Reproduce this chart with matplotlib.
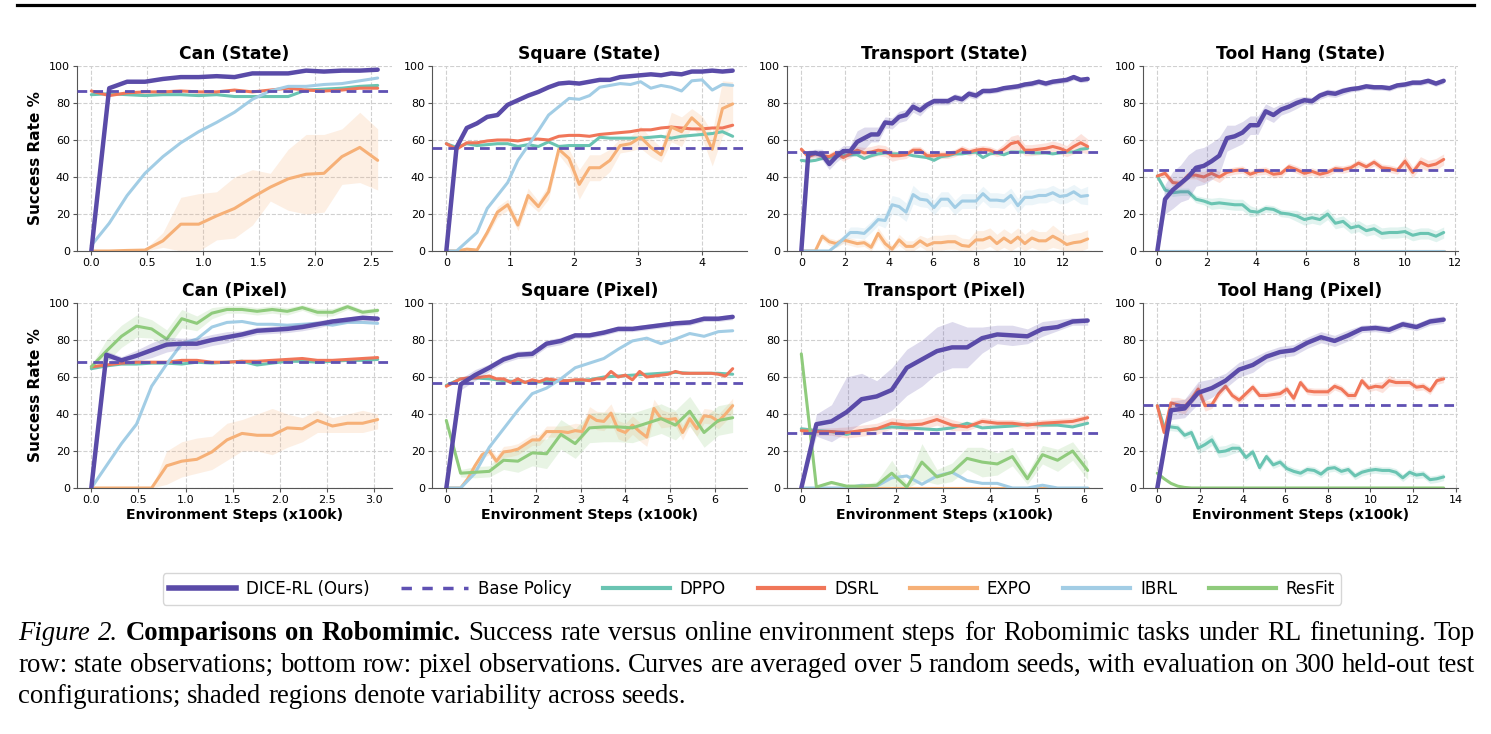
import numpy as np
import matplotlib
matplotlib.use("Agg")
import matplotlib.pyplot as plt
from matplotlib.lines import Line2D

# colours
C_DICE = "#5a4ba8"
C_BASE = "#5f51b3"
C_DPPO = "#6ac4b2"
C_DSRL = "#f07659"
C_EXPO = "#f6b077"
C_IBRL = "#a2cde5"
C_RESFIT = "#8fcb7c"

# ---------------- Can (State) ----------------
can_s_last = 2.56
can_s_base = 86.3
can_s_dice = [0, 88, 91.5, 91.5, 93, 94, 94, 94.5, 94, 96, 96, 96, 97.5, 97, 97.5, 97.5, 98]
can_s_dppo = [84.5, 85, 84.5, 84, 84.5, 84.5, 84, 84.5, 83.5, 83.5, 83.5, 83.5, 87, 87.5, 88, 89, 89.5]
can_s_dsrl = [86.5, 84, 85.5, 86, 86, 86.5, 86, 86, 87, 86, 87, 88, 87, 86.5, 87, 88, 88]
can_s_expo = [0, 0, 0.3, 0.5, 5.5, 14.5, 14.5, 19, 23, 29, 34.5, 39, 41.5, 42, 51, 56, 49]
can_s_expo_lo = [0, 0, 0, 0, 2, 0, 0, 6, 7, 14, 27, 22, 20, 21, 36, 37, 33]
can_s_expo_hi = [0, 0, 0.5, 1, 10, 29, 31, 32, 40, 44, 42, 55, 63, 63, 66, 75, 66]
can_s_ibrl = [3, 15, 30, 42, 51, 58.5, 64.5, 69.5, 75, 82, 86.5, 89, 89, 90, 90.5, 92, 93.5]

# ---------------- Square (State) ----------------
sq_s_last = 4.48
sq_s_base = 55.8
sq_s_dice = [0, 56, 66.5, 69, 72.5, 73.5, 79, 81.5, 84, 86, 88.5, 90.5, 91, 90.5, 91.5,
             92.5, 92.5, 94, 94.5, 95, 95.5, 95, 96, 95.5, 97, 97, 97.5, 97, 97.5]
sq_s_dppo = [58, 56, 58, 57, 57.5, 58, 58, 56.5, 57.5, 56.5, 59, 56.5, 57, 57, 57,
             61.5, 61, 61, 61, 61, 61.5, 62, 61, 62, 62.5, 63, 63.5, 64.5, 62]
sq_s_dsrl = [58, 55, 58.5, 58.5, 59.5, 60, 60, 59.5, 60.5, 60.5, 60, 62, 62.5, 62.5, 62,
             63, 63.5, 64, 64.5, 65.5, 65.5, 66.5, 67, 66.5, 66, 66, 66.5, 66.5, 68]
sq_s_expo = [0, 0, 1, 0.5, 10, 21, 25, 14, 30, 24, 32, 55, 50, 36, 45, 45, 49, 57, 58,
             61.5, 56, 52, 67, 64.5, 72, 67, 55, 77, 79.5]
sq_s_expo_sd = [0, 0, 1, 1, 2, 3, 3, 3, 4, 3, 4, 3, 5, 8, 7, 7, 6, 4, 4, 6, 5, 4, 8, 8, 5, 6, 9, 15, 12]
sq_s_ibrl = [0, 0, 5, 10, 23, 30, 37, 49, 57, 65, 73.5, 78, 82.5, 82, 84, 88.5, 89.5, 90.5,
             90, 91.5, 88, 89.5, 88.5, 86.5, 92, 92.5, 87, 90, 89.5]

# ---------------- Transport (State) ----------------
tr_s_last = 13.12
tr_s_base = 53.5
tr_s_dice = [0, 52.5, 53, 52, 47, 51, 54, 54, 59, 61, 63, 63, 69.5, 69, 72.5, 73.5, 78, 76,
             79, 81, 81, 81, 83, 82, 85, 84, 86.5, 86.5, 87, 88, 88.5, 89, 90, 90.5, 91.5,
             90.5, 91.5, 92, 92.5, 94, 92.5, 93]
tr_s_dice_sd = [0, 2, 2, 3, 3, 3, 3, 3, 6, 6, 4, 4, 3, 3, 3, 3, 3, 3, 2, 2, 2, 2, 2, 2, 2, 2,
                1.5, 1.5, 1.5, 1.5, 1.5, 1.5, 1.5, 1.5, 1.5, 1.5, 1.5, 1.5, 1.5, 1.5, 1.5, 1.5]
tr_s_dsrl = [55, 51, 52.5, 51.5, 51, 53, 50.5, 52.5, 54.5, 53, 53.5, 54.5, 54, 51.5, 51.5,
             52, 54.5, 54.5, 51.5, 51.5, 52, 52, 53, 55, 53.5, 54.5, 55, 54.5, 53, 55, 58,
             59, 54.5, 54.5, 55, 55.5, 56.5, 55.5, 54, 56.5, 58.5, 56.5]
tr_s_dsrl_sd = [1, 2, 2, 2, 2, 2, 2, 2, 2, 3, 3, 3, 3, 3, 2, 2, 2, 2, 2, 2, 2, 2, 2, 2, 2, 2,
                2, 2, 2, 3, 4, 4, 3, 3, 3, 3, 3, 3, 3, 4, 5, 4]
tr_s_dppo = [49, 48.5, 49, 50, 50.5, 52, 51.5, 52, 52, 50, 51.5, 52.5, 53, 52.5, 52.5, 52.5,
             51.5, 51, 50.5, 49, 51, 51.5, 52.5, 52.5, 53, 53.5, 50.5, 52.5, 53, 52, 53.5,
             53.5, 53.5, 53, 53, 53, 52.5, 53, 53.5, 53.5, 55, 55.5]
tr_s_ibrl = [0, 0, 0, 0, 0, 3, 6.5, 10, 10, 9.5, 13, 17, 16.5, 25, 24, 21, 30.5, 28, 27.5,
             23.5, 28, 28, 23.5, 27, 27, 27, 31, 27.5, 27.5, 27, 30, 24.5, 29, 29, 30, 30,
             31.5, 29.5, 30, 32, 29.5, 30]
tr_s_ibrl_sd = [0, 0, 0, 0, 0, 1, 2, 3, 3, 3, 3, 3, 4, 5, 5, 5, 5, 4, 4, 4, 4, 4, 4, 4, 4, 4,
                4, 4, 4, 4, 4, 4, 4, 4, 4, 4, 4, 4, 4, 4, 4, 5]
tr_s_expo = [0, 0, 0, 8, 5, 4, 6, 5, 4, 4.5, 2, 9.5, 4, 1, 6, 2.5, 2.5, 5.5, 3, 4.5, 4.5, 5,
             5, 3, 2.5, 6, 6, 7.5, 4, 7, 4.5, 7.5, 4, 7, 5.5, 5.5, 8, 6, 3.5, 4.5, 5, 6.5]
tr_s_expo_sd = [0, 0, 0, 2, 2, 2, 2, 2, 2, 2, 2, 3, 3, 2, 3, 3, 3, 3, 4, 4, 4, 4, 4, 4, 4, 5,
                5, 5, 5, 5, 5, 5, 5, 5, 5, 5, 6, 5, 5, 5, 5, 5]

# ---------------- Tool Hang (State) ----------------
th_s_last = 11.56
th_s_base = 43.7
th_s_dice = [0, 28, 33, 36.5, 40, 45, 46, 48.5, 51.5, 61, 62, 64, 68, 68, 75.5, 73.5, 76.5,
             78, 80, 81.5, 81, 84, 85.5, 85, 86.5, 87.5, 88, 89, 88.5, 88.5, 88, 89.5, 90,
             91, 91, 92, 90.5, 92]
th_s_dice_sd = [0, 8, 10, 10, 12, 10, 10, 10, 10, 7, 6, 6, 5, 5, 4, 4, 3, 3, 3, 2, 2, 2, 2, 2,
                2, 1.5, 1.5, 1.5, 1.5, 1.5, 1.5, 1.5, 1.5, 1.5, 1.5, 1.5, 1.5, 1.5]
th_s_dsrl = [40.5, 42, 37, 36.5, 41, 41, 40, 42, 40, 42.5, 43.5, 44, 41.5, 43, 43.5, 41.5,
             42, 45.5, 44, 42, 43, 41.5, 42.5, 44.5, 44, 45, 47.5, 45.5, 48, 45, 44.5, 43.5,
             48.5, 42.5, 48, 46, 47, 49.5]
th_s_dsrl_sd = [1, 2, 2, 2, 2, 2, 3, 3, 3, 2, 2, 2, 2, 2, 2, 2, 2, 2, 2, 2, 2, 2, 2, 2, 2, 2,
                2, 2, 2, 2, 2, 2, 3, 3, 3, 3, 3, 3]
th_s_dppo = [40.5, 33, 31.5, 32, 32, 28, 27, 25.5, 26, 25.5, 25, 25, 21.5, 21, 23, 22.5,
             20.5, 20, 19, 17, 18, 17, 20, 15, 16, 12.5, 13.5, 11, 12, 9.5, 10, 10, 10.5,
             8.5, 9.5, 9.5, 8, 10]
th_s_dppo_sd = [1, 2, 2, 2, 2, 2, 2, 3, 3, 3, 3, 3, 3, 2, 2, 2, 2, 2, 3, 3, 3, 3, 3, 3, 3, 3,
                3, 3, 3, 3, 3, 3, 3, 3, 3, 3, 3, 3]
th_s_zero = [0, 0]

# ---------------- Can (Pixel) ----------------
can_p_last = 3.04
can_p_base = 68
can_p_dice = [0, 72, 69, 71.5, 74.5, 77.5, 78, 78, 80, 81.5, 83, 85, 85.5, 86, 87, 88.5,
              90, 91, 92, 91.5]
can_p_dice_sd = [0, 2, 2, 3, 4, 4, 3, 3, 3, 3, 2, 2, 2, 2, 2, 2, 1.5, 1.5, 1.5, 1.5]
can_p_resfit = [65.5, 74, 82, 87.5, 86, 80.5, 91.5, 89, 94.5, 96.5, 96.5, 95.5, 96.5, 95.5,
                97.5, 95, 95, 98, 95, 96]
can_p_resfit_sd = [1, 6, 6, 6, 5, 5, 5, 4, 3, 2, 2, 2, 2, 2, 1.5, 2, 2, 1.5, 1.5, 1.5]
can_p_ibrl = [0, 12, 24, 34.5, 55, 67, 78, 80.5, 87, 89.5, 90, 88.5, 88.5, 88, 88.5, 89,
              88, 89.5, 89.5, 89]
can_p_dsrl = [65.5, 66.5, 67.5, 68, 68, 68, 69, 69, 68, 68, 68.5, 68.5, 69, 69.5, 70, 69,
              69, 69.5, 70, 70.5]
can_p_dppo = [64.5, 66, 67, 67, 67.5, 67.5, 67, 68, 67.5, 68, 68.5, 66.5, 67.5, 68.5, 68.5,
              68, 68.5, 69, 69, 69.5]
can_p_expo = [0, 0, 0, 0, 0, 12, 14.5, 15.5, 19.5, 26, 29.5, 28.5, 28.5, 32.5, 32, 36.5,
              33.5, 35, 35, 37]
can_p_expo_lo = [0, 0, 0, 0, 0, 2, 6, 8, 10, 15, 20, 20, 18, 22, 25, 30, 30, 30, 30, 32]
can_p_expo_hi = [0, 0, 0, 0, 0, 20, 25, 27, 28, 35, 37, 40, 43, 40, 38, 42, 38, 40, 42, 40]

# ---------------- Square (Pixel) ----------------
sq_p_last = 6.4
sq_p_base = 57
sq_p_dice = [0, 56, 61, 65, 69.5, 72, 72.5, 78, 79.5, 82.5, 82.5, 84, 86, 86, 87, 88, 89,
             89.5, 91.5, 91.5, 92.5]
sq_p_dice_sd = [0, 3, 3, 2, 2, 2, 2, 2, 2, 1.5, 1.5, 1.5, 1.5, 1.5, 1.5, 1.5, 1.5, 1.5, 1.5,
                1.5, 1.5]
sq_p_ibrl = [0, 0, 8, 22, 32, 42, 51, 54, 59, 65, 67.5, 70, 75, 79.5, 81, 78, 80.5, 83.5,
             82, 84.5, 85]
sq_p_dsrl = [55, 57, 59, 59.5, 59.5, 60, 60.5, 59, 59, 57, 59, 57, 58.5, 57.5, 59, 58.5, 58,
             58, 58.5, 58.5, 58, 59, 59, 63, 60, 61, 58.5, 63, 60, 60.5, 61, 61.5, 63, 62, 62,
             62, 62, 62, 61.5, 60.5, 64.5]
sq_p_dppo = [55.5, 59, 59.5, 59, 58, 57.5, 57, 57.5, 58, 58, 58.5, 60, 60.5, 61, 61.5, 62,
             62.5, 62, 62, 62, 61.5]
sq_p_expo = [0, 0, 0, 5, 12, 18, 20, 14.5, 19.5, 20, 21, 23.5, 26, 26, 30.5, 30.5, 30.5, 30,
             31, 30.5, 39, 36.5, 36, 40.5, 31.5, 30, 34, 30.5, 27.5, 43, 37.5, 37, 37.5, 30,
             37.5, 32, 39, 38.5, 36, 40, 44.5]
sq_p_expo_sd = [0, 0, 0, 1, 2, 2, 2, 3, 3, 3, 3, 3, 3, 3, 3, 3, 3, 4, 4, 4, 5, 5, 5, 5, 5, 5,
                5, 5, 5, 5, 5, 4, 4, 4, 4, 4, 4, 4, 4, 4, 4]
sq_p_resfit = [36.5, 8, 8.5, 9, 15, 14.5, 19, 18.5, 29, 24, 32.5, 33, 33, 32.5, 35, 37.5, 34,
               41.5, 30, 36.5, 38]
sq_p_resfit_sd = [1, 2, 3, 3, 5, 6, 7, 8, 8, 8, 8, 8, 8, 8, 8, 8, 8, 8, 8, 8, 8]

# ---------------- Transport (Pixel) ----------------
tr_p_last = 6.08
tr_p_base = 30
tr_p_dice = [0, 34.5, 36, 41, 48, 49.5, 53, 65, 69.5, 74, 76, 76, 81, 83, 82.5, 82, 86, 87,
             90, 90.5]
tr_p_dice_lo = [0, 28, 25, 30, 35, 38, 42, 50, 55, 62, 65, 65, 73, 78, 77, 78, 82, 85, 88, 88]
tr_p_dice_hi = [0, 40, 45, 60, 62, 58, 65, 75, 80, 87, 90, 87, 87, 88, 88, 86, 90, 91, 92, 92]
tr_p_dsrl = [31, 30.5, 30.5, 30, 31, 32, 35, 34, 34.5, 37, 34, 33, 36, 35, 35, 34, 35, 35.5,
             36, 38]
tr_p_dsrl_sd = [2, 2, 2, 3, 3, 3, 3, 3, 3, 3, 3, 2, 2, 2, 2, 2, 2, 2, 2, 2]
tr_p_dppo = [32, 31, 30.5, 29, 31, 32, 33, 32.5, 32, 31.5, 32.5, 35, 32.5, 33, 33.5, 34.5,
             34, 34, 33, 35]
tr_p_resfit = [72.5, 0.5, 3, 1, 1, 1.5, 8, 0.5, 14, 6, 8.5, 16, 14, 13, 17, 5, 18, 15, 20, 9.5]
tr_p_resfit_sd = [1, 1, 1, 1, 1, 2, 7, 2, 10, 4, 5, 6, 8, 6, 5, 3, 5, 6, 5, 5]
tr_p_ibrl = [0, 0, 0, 0, 1.5, 1, 5.5, 6.5, 2, 6.5, 8.5, 4, 2.5, 2.5, 0, 0, 1.5, 0, 0, 0]
tr_p_expo = [0, 0]

# ---------------- Tool Hang (Pixel) ----------------
th_p_last = 13.44
th_p_base = 44.8
th_p_dice = [0, 42, 43, 51.5, 54, 58, 64, 66.5, 71, 73.5, 74.5, 78.5, 81.5, 79.5, 82.5, 86,
             86.5, 85.5, 88.5, 87, 90, 91]
th_p_dice_sd = [0, 5, 5, 6, 5, 4, 4, 4, 3, 3, 3, 3, 3, 3, 3, 2, 2, 2, 2, 2, 2, 2]
th_p_dsrl = [44.5, 30, 46, 45, 44, 48, 53.5, 44.5, 45, 51, 55, 50, 47.5, 51, 54.5, 50, 50,
             50.5, 51, 53.5, 48.5, 57, 52.5, 52, 52, 52, 55, 53.5, 50, 50, 58, 54, 55, 54.5,
             58, 57, 57, 57, 54.5, 55, 52.5, 58, 59]
th_p_dsrl_sd = [1, 2, 3, 4, 4, 3, 3, 3, 2, 2, 2, 2, 2, 2, 2, 2, 2, 2, 2, 2, 2, 2, 2, 2, 2, 2,
                2, 2, 2, 2, 2, 2, 2, 3, 3, 2, 2, 2, 2, 2, 2, 2, 2]
th_p_dppo = [44.5, 33, 33, 32.5, 28.5, 30, 21.5, 23.5, 26, 19.5, 20, 21.5, 21.5, 16.5, 19.5,
             11, 17, 12.5, 14, 10.5, 9, 8, 10, 9.5, 7.5, 10.5, 11, 9, 10, 6.5, 8.5, 9.5, 10,
             9.5, 9.5, 8.5, 5.5, 8.5, 7, 7.5, 4.5, 5, 6]
th_p_dppo_sd = [1, 2, 2, 2, 2, 2, 3, 3, 3, 3, 3, 3, 2, 2, 2, 2, 2, 2, 2, 2, 2, 2, 2, 2, 2, 2,
                2, 2, 2, 2, 2, 2, 2, 2, 2, 2, 2, 2, 2, 2, 2, 2, 2]
th_p_resfit = [8, 5, 2.5, 1, 0.3, 0, 0, 0, 0, 0, 0, 0, 0, 0, 0, 0, 0, 0, 0, 0, 0, 0, 0, 0, 0,
               0, 0, 0, 0, 0, 0, 0, 0, 0, 0, 0, 0, 0, 0, 0, 0, 0, 0]

titles = ["Can (State)", "Square (State)", "Transport (State)", "Tool Hang (State)",
          "Can (Pixel)", "Square (Pixel)", "Transport (Pixel)", "Tool Hang (Pixel)"]

legend_labels = ["DICE-RL (Ours)", "Base Policy", "DPPO", "DSRL", "EXPO", "IBRL", "ResFit"]

caption_1 = [("Figure", "italic"), ("2.", "italic"), ("Comparisons", "bold"), ("on", "bold"),
             ("Robomimic.", "bold")] + [(w, "normal") for w in
             "Success rate versus online environment steps for Robomimic tasks under RL finetuning. Top".split()]
caption_2 = [(w, "normal") for w in
             "row: state observations; bottom row: pixel observations. Curves are averaged over 5 random seeds, with evaluation on 300 held-out test".split()]
caption_3 = [(w, "normal") for w in
             "configurations; shaded regions denote variability across seeds.".split()]


def series(vals, color, lw=2.2, sd=None, lo=None, hi=None, z=2):
    return dict(vals=vals, color=color, lw=lw, sd=sd, lo=lo, hi=hi, z=z)


panels = [
    (can_s_last, can_s_base, [
        series(can_s_dppo, C_DPPO), series(can_s_dsrl, C_DSRL),
        series(can_s_expo, C_EXPO, lo=can_s_expo_lo, hi=can_s_expo_hi),
        series(can_s_ibrl, C_IBRL), series(can_s_dice, C_DICE, lw=3.2, z=5)]),
    (sq_s_last, sq_s_base, [
        series(sq_s_dppo, C_DPPO), series(sq_s_dsrl, C_DSRL),
        series(sq_s_expo, C_EXPO, sd=sq_s_expo_sd),
        series(sq_s_ibrl, C_IBRL), series(sq_s_dice, C_DICE, lw=3.2, z=5)]),
    (tr_s_last, tr_s_base, [
        series(tr_s_dppo, C_DPPO), series(tr_s_dsrl, C_DSRL, sd=tr_s_dsrl_sd),
        series(tr_s_expo, C_EXPO, sd=tr_s_expo_sd),
        series(tr_s_ibrl, C_IBRL, sd=tr_s_ibrl_sd),
        series(tr_s_dice, C_DICE, lw=3.2, sd=tr_s_dice_sd, z=5)]),
    (th_s_last, th_s_base, [
        series(th_s_dppo, C_DPPO, sd=th_s_dppo_sd), series(th_s_dsrl, C_DSRL, sd=th_s_dsrl_sd),
        series(th_s_zero, C_EXPO), series(th_s_zero, C_IBRL),
        series(th_s_dice, C_DICE, lw=3.2, sd=th_s_dice_sd, z=5)]),
    (can_p_last, can_p_base, [
        series(can_p_dppo, C_DPPO), series(can_p_dsrl, C_DSRL),
        series(can_p_expo, C_EXPO, lo=can_p_expo_lo, hi=can_p_expo_hi),
        series(can_p_ibrl, C_IBRL), series(can_p_resfit, C_RESFIT, sd=can_p_resfit_sd),
        series(can_p_dice, C_DICE, lw=3.2, sd=can_p_dice_sd, z=5)]),
    (sq_p_last, sq_p_base, [
        series(sq_p_dppo, C_DPPO), series(sq_p_dsrl, C_DSRL),
        series(sq_p_expo, C_EXPO, sd=sq_p_expo_sd),
        series(sq_p_ibrl, C_IBRL), series(sq_p_resfit, C_RESFIT, sd=sq_p_resfit_sd),
        series(sq_p_dice, C_DICE, lw=3.2, sd=sq_p_dice_sd, z=5)]),
    (tr_p_last, tr_p_base, [
        series(tr_p_dppo, C_DPPO), series(tr_p_dsrl, C_DSRL, sd=tr_p_dsrl_sd),
        series(tr_p_expo, C_EXPO), series(tr_p_ibrl, C_IBRL),
        series(tr_p_resfit, C_RESFIT, sd=tr_p_resfit_sd),
        series(tr_p_dice, C_DICE, lw=3.2, lo=tr_p_dice_lo, hi=tr_p_dice_hi, z=5)]),
    (th_p_last, th_p_base, [
        series(th_p_dppo, C_DPPO, sd=th_p_dppo_sd), series(th_p_dsrl, C_DSRL, sd=th_p_dsrl_sd),
        series(th_p_resfit, C_RESFIT),
        series(th_p_dice, C_DICE, lw=3.2, sd=th_p_dice_sd, z=5)]),
]

W, H = 1491, 734
fig = plt.figure(figsize=(W / 100, H / 100), dpi=100)

col_left = [77, 432, 787, 1143]
row_top = [66, 303]
ax_w, ax_h = 315, 185

for i, (last, base, lines) in enumerate(panels):
    r, c = divmod(i, 4)
    ax = fig.add_axes([col_left[c] / W, 1 - (row_top[r] + ax_h) / H, ax_w / W, ax_h / H])
    for s in lines:
        v = np.array(s["vals"], dtype=float)
        x = np.linspace(0, last, len(v))
        if s["sd"] is not None:
            sd = np.array(s["sd"], dtype=float)
            ax.fill_between(x, np.clip(v - sd, 0, 100), np.clip(v + sd, 0, 100),
                            color=s["color"], alpha=0.2, lw=0, zorder=s["z"] - 1)
        if s["lo"] is not None:
            ax.fill_between(x, s["lo"], s["hi"], color=s["color"], alpha=0.2, lw=0,
                            zorder=s["z"] - 1)
        ax.plot(x, v, color=s["color"], lw=s["lw"], zorder=s["z"], solid_capstyle="round")
    ax.axhline(base, color=C_BASE, lw=2, ls=(0, (3.5, 2.2)), zorder=4)
    ax.set_ylim(0, 100)
    ax.set_yticks([0, 20, 40, 60, 80, 100])
    ax.set_title(titles[i], fontsize=12.3, fontweight="bold", pad=5)
    ax.grid(True, ls="--", color="#d0d0d0", lw=0.8)
    ax.set_axisbelow(True)
    for sp in ["top", "right"]:
        ax.spines[sp].set_visible(False)
    for sp in ["left", "bottom"]:
        ax.spines[sp].set_color("#555555")
    ax.tick_params(labelsize=8, length=3, color="#555555", pad=2)
    if c == 0:
        ax.set_ylabel("Success Rate %", fontsize=11, fontweight="bold")
    if r == 1:
        ax.set_xlabel("Environment Steps (x100k)", fontsize=10.2, fontweight="bold", labelpad=2)

handles = [
    Line2D([], [], color=C_DICE, lw=4),
    Line2D([], [], color=C_BASE, lw=2.5, ls=(0, (3, 3))),
    Line2D([], [], color=C_DPPO, lw=3),
    Line2D([], [], color=C_DSRL, lw=3),
    Line2D([], [], color=C_EXPO, lw=3),
    Line2D([], [], color=C_IBRL, lw=3),
    Line2D([], [], color=C_RESFIT, lw=3),
]
fig.legend(handles, legend_labels, loc="center", bbox_to_anchor=(752 / W, 1 - 589 / H),
           ncol=7, fontsize=12, handlelength=4.0, handletextpad=0.6, columnspacing=1.9,
           frameon=True, fancybox=True, edgecolor="#cccccc", borderpad=0.4)

# top rule
fig.add_artist(Line2D([17 / W, 1474 / W], [1 - 4.5 / H] * 2, color="black", lw=2.3))

# caption, justified like the paper
renderer = fig.canvas.get_renderer()
cap_size = 19.25
space_px = 0.25 * cap_size * 100 / 72


def caption_line(tokens, y_px, justify, left=18, right=1475):
    texts = []
    widths = []
    for word, style in tokens:
        kw = dict(fontsize=cap_size, family="Liberation Serif", va="baseline", ha="left")
        if style == "italic":
            kw["style"] = "italic"
        elif style == "bold":
            kw["weight"] = "bold"
        t = fig.text(0, 1 - y_px / H, word, **kw)
        texts.append(t)
        widths.append(t.get_window_extent(renderer).width)
    if justify:
        gap = (right - left - sum(widths)) / (len(widths) - 1)
    else:
        gap = space_px
    x = left
    for t, w in zip(texts, widths):
        t.set_x(x / W)
        x += w + gap


caption_line(caption_1, 640, True)
caption_line(caption_2, 672, True)
caption_line(caption_3, 703, False)

fig.savefig("out.png", dpi=100)
